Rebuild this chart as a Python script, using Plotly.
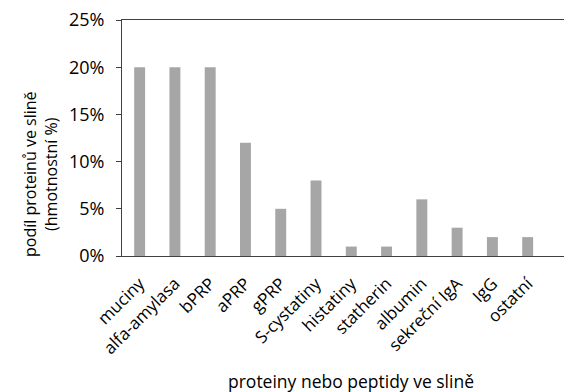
import plotly.graph_objects as go

categories = ["muciny", "alfa-amylasa", "bPRP", "aPRP", "gPRP", "S-cystatiny",
              "histatiny", "statherin", "albumin", "sekreční IgA", "IgG", "ostatní"]
values = [0.20, 0.20, 0.20, 0.12, 0.05, 0.08, 0.01, 0.01, 0.06, 0.03, 0.02, 0.02]
y_ticks = [0, 0.05, 0.10, 0.15, 0.20, 0.25]
y_ticklabels = ["0%", "5%", "10%", "15%", "20%", "25%"]

font = "Open Sans, Liberation Sans, sans-serif"

fig = go.Figure(go.Bar(x=categories, y=values, marker_color="#A6A6A6",
                       marker_line_width=0, width=0.31))

fig.update_layout(
    width=564, height=384,
    margin=dict(l=114, r=2, t=12, b=136),
    paper_bgcolor="white", plot_bgcolor="white",
    font=dict(family=font, size=16, color="#000000"),
    showlegend=False,
    annotations=[
        dict(text="podíl proteinů ve slině<br>(hmotnostní %)", textangle=-90,
             xref="paper", yref="paper", x=0, y=0.5, xanchor="center", yanchor="middle",
             xshift=-82, yshift=-36, showarrow=False, font=dict(family=font, size=16)),
        dict(text="proteiny nebo peptidy ve slině",
             xref="paper", yref="paper", x=0.5, y=0, yshift=-125, xshift=5,
             xanchor="center", yanchor="middle", showarrow=False,
             font=dict(family=font, size=17.5)),
    ],
)
fig.update_xaxes(type="category", range=[-0.5, 12.2], tickangle=-45,
                 showline=True, linecolor="#404040", linewidth=1, mirror=True,
                 ticks="", showgrid=False, tickfont=dict(size=17), automargin=False,
                 ticklabelstandoff=10, ticklabeloverflow="allow")
fig.update_yaxes(range=[0, 0.25], tickvals=y_ticks, ticktext=y_ticklabels,
                 showline=True, linecolor="#404040", linewidth=1,
                 ticks="outside", ticklen=5, tickcolor="#404040",
                 showgrid=False, zeroline=False, tickfont=dict(size=18), automargin=False,
                 ticklabelstandoff=8, ticklabeloverflow="allow")

fig.write_html("out.html")
